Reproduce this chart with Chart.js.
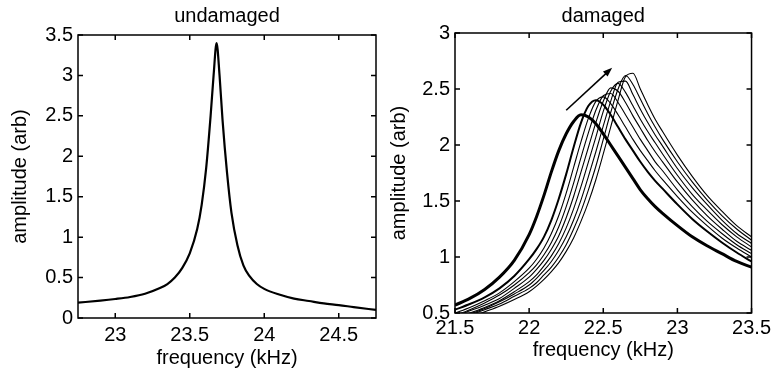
<!DOCTYPE html>
<html lang="en">
<head>
<meta charset="UTF-8">
<title>Resonance curves</title>
<script src="https://cdn.jsdelivr.net/npm/chart.js"></script>
<style>
  body { margin: 0; background: #fff; }
  .panel { position: absolute; top: 0; width: 387px; height: 373px; }
</style>
</head>
<body>
<div class="panel" style="left:0"><canvas id="undamaged" width="387" height="373"></canvas></div>
<div class="panel" style="left:387px"><canvas id="damaged" width="387" height="373"></canvas></div>

<script>
// undamaged panel
const freqU = [22.75, 22.9, 23.0, 23.1, 23.2, 23.3, 23.35, 23.4, 23.45, 23.5, 23.55, 23.58, 23.61, 23.64, 23.66, 23.68,
  23.70, 23.72, 23.75, 23.78, 23.82, 23.86, 23.9, 23.95, 24.0, 24.1, 24.2, 24.3, 24.4, 24.5, 24.6, 24.75];
const ampU = [0.19, 0.215, 0.235, 0.26, 0.30, 0.37, 0.42, 0.50, 0.62, 0.80, 1.10, 1.40, 1.85, 2.5, 3.0, 3.4,
  3.0, 2.45, 1.8, 1.3, 0.9, 0.65, 0.52, 0.42, 0.36, 0.29, 0.24, 0.21, 0.18, 0.16, 0.135, 0.10];
const xTicksU = [23, 23.5, 24, 24.5];
const yTicksU = [0, 0.5, 1, 1.5, 2, 2.5, 3, 3.5];

// damaged panel: common frequency grid, one array per sweep (first = thick, second = medium)
const freqD = [21.5, 21.6, 21.7, 21.8, 21.9, 22.0, 22.05, 22.1, 22.15, 22.2, 22.25, 22.3, 22.35, 22.4, 22.45,
  22.5, 22.55, 22.6, 22.65, 22.7, 22.75, 22.8, 22.85, 22.9, 23.0, 23.1, 23.2, 23.3, 23.4, 23.5];
const amp0 = [0.57, 0.63, 0.71, 0.82, 0.97, 1.2, 1.36, 1.55, 1.76, 1.95, 2.1, 2.21, 2.27, 2.25, 2.19,
  2.1, 2.0, 1.9, 1.8, 1.7, 1.6, 1.52, 1.45, 1.39, 1.28, 1.18, 1.1, 1.03, 0.96, 0.91];
const amp1 = [0.53, 0.58, 0.64, 0.72, 0.83, 0.98, 1.07, 1.18, 1.33, 1.52, 1.74, 1.98, 2.2, 2.35, 2.4,
  2.36, 2.27, 2.16, 2.05, 1.95, 1.85, 1.76, 1.68, 1.61, 1.47, 1.34, 1.23, 1.13, 1.04, 0.96];
const amp2 = [0.50, 0.55, 0.61, 0.68, 0.78, 0.90, 0.98, 1.08, 1.21, 1.37, 1.57, 1.8, 2.03, 2.24, 2.39,
  2.43, 2.37, 2.27, 2.16, 2.05, 1.95, 1.86, 1.77, 1.69, 1.54, 1.4, 1.28, 1.17, 1.08, 1.0];
const amp3 = [0.48, 0.53, 0.59, 0.66, 0.75, 0.86, 0.93, 1.02, 1.13, 1.27, 1.45, 1.66, 1.89, 2.11, 2.31,
  2.44, 2.46, 2.38, 2.27, 2.16, 2.05, 1.95, 1.85, 1.77, 1.6, 1.45, 1.32, 1.21, 1.11, 1.03];
const amp4 = [0.47, 0.52, 0.57, 0.63, 0.72, 0.82, 0.89, 0.97, 1.07, 1.19, 1.35, 1.54, 1.76, 1.98, 2.2,
  2.39, 2.51, 2.48, 2.38, 2.26, 2.15, 2.04, 1.94, 1.85, 1.67, 1.51, 1.37, 1.25, 1.14, 1.06];
const amp5 = [0.45, 0.50, 0.55, 0.61, 0.69, 0.78, 0.84, 0.92, 1.01, 1.12, 1.26, 1.43, 1.63, 1.85, 2.07,
  2.3, 2.48, 2.55, 2.47, 2.35, 2.23, 2.12, 2.02, 1.92, 1.73, 1.56, 1.42, 1.29, 1.18, 1.09];
const amp6 = [0.44, 0.49, 0.54, 0.60, 0.67, 0.75, 0.81, 0.88, 0.96, 1.06, 1.18, 1.33, 1.51, 1.72, 1.94,
  2.17, 2.39, 2.56, 2.57, 2.45, 2.32, 2.2, 2.09, 1.99, 1.79, 1.62, 1.47, 1.33, 1.21, 1.12];
const amp7 = [0.43, 0.48, 0.53, 0.58, 0.65, 0.72, 0.77, 0.84, 0.91, 1.0, 1.11, 1.25, 1.41, 1.6, 1.81,
  2.05, 2.29, 2.5, 2.62, 2.54, 2.41, 2.28, 2.16, 2.05, 1.85, 1.67, 1.51, 1.37, 1.25, 1.15];
const amp8 = [0.42, 0.46, 0.51, 0.56, 0.62, 0.69, 0.74, 0.80, 0.87, 0.95, 1.05, 1.17, 1.32, 1.49, 1.69,
  1.92, 2.16, 2.4, 2.61, 2.64, 2.5, 2.36, 2.23, 2.12, 1.91, 1.72, 1.55, 1.41, 1.28, 1.18];
const xTicksD = [21.5, 22, 22.5, 23, 23.5];
const yTicksD = [0.5, 1, 1.5, 2, 2.5, 3];
const arrowX = [22.25, 22.56];
const arrowY = [2.31, 2.69];

const FONT = "'Liberation Sans', Arial, Helvetica, sans-serif";
Chart.defaults.font.family = FONT;
Chart.defaults.color = '#000';

function pts(xs, ys) {
    return xs.map((x, i) => ({ x: x, y: ys[i] }));
}

// box + inward tick marks like the original figure
const boxPlugin = {
    id: 'box',
    afterDatasetsDraw(chart) {
        const { ctx, chartArea: a, scales: { x, y } } = chart;
        ctx.save();
        ctx.strokeStyle = '#000';
        ctx.lineWidth = 1.5;
        ctx.strokeRect(a.left, a.top, a.right - a.left, a.bottom - a.top);
        ctx.beginPath();
        x.ticks.forEach(t => {
            const px = x.getPixelForValue(t.value);
            ctx.moveTo(px, a.bottom); ctx.lineTo(px, a.bottom - 5);
            ctx.moveTo(px, a.top); ctx.lineTo(px, a.top + 5);
        });
        y.ticks.forEach(t => {
            const py = y.getPixelForValue(t.value);
            ctx.moveTo(a.left, py); ctx.lineTo(a.left + 5, py);
            ctx.moveTo(a.right, py); ctx.lineTo(a.right - 5, py);
        });
        ctx.stroke();
        ctx.restore();
    }
};

const arrowPlugin = {
    id: 'arrow',
    afterDatasetsDraw(chart) {
        const { ctx, scales: { x, y } } = chart;
        const x0 = x.getPixelForValue(arrowX[0]), y0 = y.getPixelForValue(arrowY[0]);
        const x1 = x.getPixelForValue(arrowX[1]), y1 = y.getPixelForValue(arrowY[1]);
        const ang = Math.atan2(y1 - y0, x1 - x0);
        ctx.save();
        ctx.strokeStyle = '#000';
        ctx.fillStyle = '#000';
        ctx.lineWidth = 1.6;
        ctx.beginPath();
        ctx.moveTo(x0, y0);
        ctx.lineTo(x1 - 6 * Math.cos(ang), y1 - 6 * Math.sin(ang));
        ctx.stroke();
        ctx.beginPath();
        ctx.moveTo(x1, y1);
        ctx.lineTo(x1 - 10 * Math.cos(ang - 0.35), y1 - 10 * Math.sin(ang - 0.35));
        ctx.lineTo(x1 - 10 * Math.cos(ang + 0.35), y1 - 10 * Math.sin(ang + 0.35));
        ctx.closePath();
        ctx.fill();
        ctx.restore();
    }
};

function makePanel(id, p) {
    return new Chart(document.getElementById(id), {
        type: 'line',
        data: { datasets: p.datasets },
        plugins: p.plugins,
        options: {
            responsive: false,
            animation: false,
            layout: { padding: { left: 0, right: p.padRight, top: 0, bottom: 0 } },
            elements: { point: { radius: 0 }, line: { cubicInterpolationMode: 'monotone', borderColor: '#000' } },
            plugins: {
                legend: { display: false },
                tooltip: { enabled: false },
                title: {
                    display: true, text: p.title, fullSize: false,
                    font: { size: 20, weight: 'normal' }, color: '#000',
                    padding: { top: 4, bottom: p.titleBottom }
                }
            },
            scales: {
                x: {
                    type: 'linear', min: p.xMin, max: p.xMax,
                    grid: { display: false, drawTicks: false },
                    border: { display: false },
                    afterBuildTicks: s => { s.ticks = p.xTicks.map(v => ({ value: v })); },
                    afterFit: s => { s.height = p.xHeight; },
                    ticks: { font: { size: 20 }, color: '#000', padding: p.xTickPad, maxRotation: 0, callback: v => String(v) },
                    title: { display: true, text: 'frequency (kHz)', font: { size: 20 }, color: '#000', padding: { top: 0, bottom: p.xTitlePad } }
                },
                y: {
                    type: 'linear', min: p.yMin, max: p.yMax,
                    grid: { display: false, drawTicks: false },
                    border: { display: false },
                    afterBuildTicks: s => { s.ticks = p.yTicks.map(v => ({ value: v })); },
                    afterFit: s => { s.width = p.yWidth; },
                    ticks: { font: { size: 20 }, color: '#000', padding: 5, callback: v => String(v) },
                    title: { display: true, text: 'amplitude (arb)', font: { size: 20 }, color: '#000', padding: { top: p.yTitlePad, bottom: 0 } }
                }
            }
        }
    });
}

makePanel('undamaged', {
    title: 'undamaged',
    datasets: [{ data: pts(freqU, ampU), borderWidth: 2.2 }],
    plugins: [boxPlugin],
    xMin: 22.75, xMax: 24.75, yMin: 0, yMax: 3.5,
    xTicks: xTicksU, yTicks: yTicksU,
    padRight: 11, titleBottom: 7, xHeight: 55, yWidth: 78,
    xTickPad: 5, xTitlePad: 3, yTitlePad: 8
});

const sweeps = [amp0, amp1, amp2, amp3, amp4, amp5, amp6, amp7, amp8];
const widths = [3, 2, 1.1, 1.1, 1.1, 1.1, 1.1, 1.1, 1.1];
makePanel('damaged', {
    title: 'damaged',
    datasets: sweeps.map((a, i) => ({ data: pts(freqD, a), borderWidth: widths[i] })),
    plugins: [boxPlugin, arrowPlugin],
    xMin: 21.5, xMax: 23.5, yMin: 0.5, yMax: 3,
    xTicks: xTicksD, yTicks: yTicksD,
    padRight: 22, titleBottom: 5, xHeight: 60, yWidth: 68,
    xTickPad: 3, xTitlePad: 11, yTitlePad: 0
});
</script>
</body>
</html>
